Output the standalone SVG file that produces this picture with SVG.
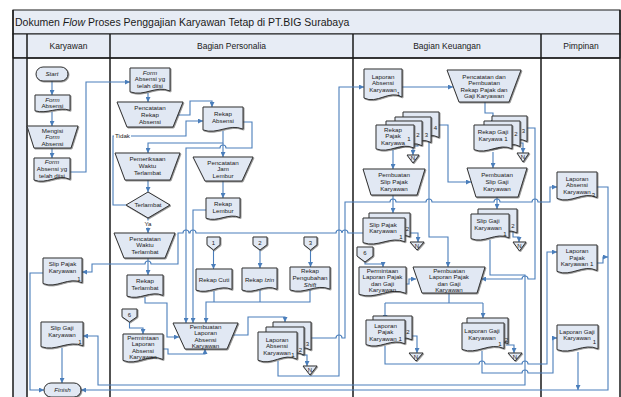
<svg xmlns="http://www.w3.org/2000/svg" width="621" height="397" viewBox="0 0 621 397">
<style>
.sh{fill:#e1e8f3;stroke:#333;stroke-width:1;filter:url(#sd)}
.ln{fill:none;stroke:#4a7ebb;stroke-width:1.1}
.ar{marker-end:url(#ah)}
text{font-family:"Liberation Sans",Arial,sans-serif;fill:#1a1a1a}
.t{font-size:6.2px;text-anchor:middle}
.n{font-size:6px;text-anchor:middle}
.i{font-style:italic}
.hd{fill:#e7ecf5;stroke:#1a1a1a;stroke-width:1}
.lane{stroke:#1a1a1a;stroke-width:1.5;fill:none}
.h{font-size:8.5px;text-anchor:middle}
.bg{fill:#fff}
</style>
<defs>
<marker id="ah" viewBox="0 0 10 10" refX="10" refY="5" markerWidth="5" markerHeight="5" orient="auto" markerUnits="userSpaceOnUse"><path d="M0,0 L10,5 L0,10 z" fill="#4a7ebb"/></marker>
<filter id="sd" x="-10%" y="-10%" width="130%" height="130%"><feDropShadow dx="0.8" dy="0.8" stdDeviation="0.3" flood-color="#444" flood-opacity="0.7"/></filter>
</defs>
<rect width="621" height="397" fill="#fff"/>
<g id="frame">
<rect class="hd" x="13" y="10" width="607" height="24"/>
<rect class="hd" x="13" y="34" width="607" height="24"/>
<rect x="13" y="58" width="14" height="339" fill="#e7ecf5"/>
<path class="lane" d="M13,10 V397 M27,34 V397 M110,34 V397 M353,34 V397 M541,34 V397 M620,10 V397 M13,58 H620"/>
<text x="15" y="25.5" font-size="10.5">Dokumen <tspan class="i">Flow</tspan> Proses Penggajian Karyawan Tetap di PT.BIG Surabaya</text>
<text class="h" x="68.5" y="49">Karyawan</text>
<text class="h" x="231.5" y="49">Bagian Personalia</text>
<text class="h" x="447" y="49">Bagian Keuangan</text>
<text class="h" x="581" y="49">Pimpinan</text>
</g>
<g id="connectors">
<path class="ln ar" d="M52,81 V95"/>
<path class="ln ar" d="M52,112 V126"/>
<path class="ln ar" d="M52,148 V158"/>
<path class="ln ar" d="M70,172 H86 V82 H130"/>
<path class="ln ar" d="M43,273 H30 V390 H44"/>
<path class="ln ar" d="M62,348 V383"/>
<path class="ln ar" d="M148,93 V102"/>
<path class="ln ar" d="M178,115 H190 V101 H212 V107"/>
<path class="ln ar" d="M223,131 V143 H148 V153"/>
<path class="ln ar" d="M223,143 V157"/>
<path class="ln ar" d="M243,122 H252 V148 H226 a3,3 0 0 0 -6,0 H186 V323"/>
<path class="ln ar" d="M148,180 V192"/>
<path class="ln ar" d="M126,205 H113 V136 H186 V121 H203"/>
<path class="ln ar" d="M148,218 V233"/>
<path class="ln ar" d="M148,258 V275"/>
<path class="ln ar" d="M145,297 V303 H167 V337 H179"/>
<path class="ln ar" d="M223,181 V198"/>
<path class="ln ar" d="M206,210 H193 V323"/>
<path class="ln ar" d="M213.5,250 V269"/>
<path class="ln ar" d="M260,250 V268"/>
<path class="ln ar" d="M310.5,250 V267"/>
<path class="ln" d="M214,291 V302 M260,290 V302"/>
<path class="ln ar" d="M310,290 V302 H206 V323"/>
<path class="ln ar" d="M129.5,322 V328 H143 V334"/>
<path class="ln ar" d="M163,349 H168 V354 H205 V349"/>
<path class="ln ar" d="M233,335 H248 V317 H285 V322"/>
<path class="ln ar" d="M302,355 H307 V366"/>
<path class="ln ar" d="M278,361 V376 H339 V87 H364"/>
<path class="ln ar" d="M311,338 H336 a3,3 0 0 1 6,0 H345 V202 H390 a3,3 0 0 1 6,0 H426 a3,3 0 0 1 6,0 H494 a3,3 0 0 1 6,0 H532 a3,3 0 0 1 6,0 H550 V187 H557"/>
<path class="ln ar" d="M363,233 H348 a3,3 0 0 0 -6,0 a3,3 0 0 0 -6,0 H196 a3,3 0 0 0 -6,0 H189 a3,3 0 0 0 -6,0 H178 V264 H151 a3,3 0 0 0 -6,0 H92 V272 H82"/>
<path class="ln ar" d="M402,87 H453"/>
<path class="ln ar" d="M485,102 V113 H493 V125"/>
<path class="ln ar" d="M393,150 V169"/>
<path class="ln ar" d="M418,139 V146 H413 V155"/>
<path class="ln ar" d="M429,140 V237 H448 V267"/>
<path class="ln ar" d="M439,125 H448 V182 H471"/>
<path class="ln ar" d="M516,139 V143 H523 V153"/>
<path class="ln ar" d="M527,128 H535 V279 H528 a3,3 0 0 0 -6,0 H481"/>
<path class="ln ar" d="M493,152 V168"/>
<path class="ln ar" d="M393,195 V213"/>
<path class="ln ar" d="M497,197 V209"/>
<path class="ln ar" d="M408,233 H418 V242"/>
<path class="ln ar" d="M513,230 V237 H519 V242"/>
<path class="ln ar" d="M490,240 V275 H525 V385 H98 V336 H83"/>
<path class="ln ar" d="M365,262 V264 H383 V267"/>
<path class="ln ar" d="M406,284 H409 V279 H416"/>
<path class="ln" d="M449,293 V303 M385,303 H483"/>
<path class="ln ar" d="M385,303 V320"/>
<path class="ln ar" d="M483,303 V318"/>
<path class="ln ar" d="M408,336 H417 V353"/>
<path class="ln ar" d="M506,345 H514 V353"/>
<path class="ln ar" d="M385,346 V364 H479 a3,3 0 0 1 6,0 H522 a3,3 0 0 1 6,0 H547 V252 H557"/>
<path class="ln ar" d="M482,351 V373 H522 a3,3 0 0 1 6,0 H553 V338 H557"/>
<path class="ln ar" d="M597,187 H608 V390 H81"/>
<path class="ln ar" d="M597,263 H603 V257 H608"/>
<path class="ln ar" d="M578,352 V390"/>
<rect class="bg" x="114" y="132" width="17" height="8"/>
<text class="t" x="122.5" y="138.2">Tidak</text>
<rect class="bg" x="143" y="220.5" width="10" height="7"/>
<text class="t" x="148" y="226">Ya</text>
</g>
<g id="start"><rect class="sh" x="36" y="67" width="32" height="14" rx="7"/><text class="t i" x="52" y="76.3">Start</text></g>
<g id="k-form"><path class="sh" d="M35,95 H70 V110.3 C57.75,106.2 47.25,114.4 35,110.8 Z"/><text class="t i" x="52.5" y="101.5">Form</text><text class="t" x="52.5" y="108">Absensi</text></g>
<g id="k-mengisi"><path class="sh" d="M27,126 H78 L71,148 H34 Z"/><text class="t" x="52.5" y="132.5">Mengisi</text><text class="t i" x="52.5" y="139.3">Form</text><text class="t" x="52.5" y="146">Absensi</text></g>
<g id="k-form-diisi"><path class="sh" d="M34,158 H70 V179.3 C57.4,173.5 46.6,185 34,180 Z"/><text class="t i" x="52" y="164.3">Form</text><text class="t" x="52" y="171">Absensi yg</text><text class="t" x="52" y="177.6">telah diisi</text></g>
<g id="k-slip-pajak"><path class="sh" d="M43,258 H82 V282.7 C68.4,276 56.7,289.3 43,283.5 Z"/><text class="t" x="62.5" y="266">Slip Pajak</text><text class="t" x="62.5" y="273">Karyawan</text><text class="n" x="79" y="281">1</text></g>
<g id="k-slip-gaji"><path class="sh" d="M41,322 H83 V345.8 C68.3,339.4 55.7,352.2 41,346.6 Z"/><text class="t" x="62" y="330">Slip Gaji</text><text class="t" x="62" y="337">Karyawan</text><text class="n" x="80" y="344">1</text></g>
<g id="finish"><rect class="sh" x="44" y="383" width="37" height="14" rx="7"/><text class="t i" x="62.5" y="392.3">Finish</text></g>
<g id="p-form"><path class="sh" d="M130,68 H170 V91 C156,84.7 144,97.2 130,91.8 Z"/><text class="t i" x="150" y="74.5">Form</text><text class="t" x="150" y="81">Absensi yg</text><text class="t" x="150" y="87.5">telah diisi</text></g>
<g id="p-pencatatan-rekap"><path class="sh" d="M117,102 H183 L173,127 H127 Z"/><text class="t" x="150" y="110">Pencatatan</text><text class="t" x="150" y="117">Rekap</text><text class="t" x="150" y="124">Absensi</text></g>
<g id="p-rekap-absensi"><path class="sh" d="M203,107 H243 V129.1 C229,123.1 217,135.1 203,129.9 Z"/><text class="t" x="223" y="116">Rekap</text><text class="t" x="223" y="123">Absensi</text></g>
<g id="p-pemeriksaan"><path class="sh" d="M115,153 H180 L170,180 H125 Z"/><text class="t" x="147.5" y="161">Pemeriksaan</text><text class="t" x="147.5" y="168">Waktu</text><text class="t" x="147.5" y="175">Terlambat</text></g>
<g id="p-terlambat"><path class="sh" d="M148,192 L170,205 L148,218 L126,205 Z"/><text class="t" x="148" y="207.3">Terlambat</text></g>
<g id="p-pencatatan-waktu"><path class="sh" d="M114,233 H175 L165,258 H124 Z"/><text class="t" x="145" y="240.5">Pencatatan</text><text class="t" x="145" y="247.3">Waktu</text><text class="t" x="145" y="254.2">Terlambat</text></g>
<g id="p-rekap-terlambat"><path class="sh" d="M127,275 H163 V295.4 C150.4,289.9 139.6,300.9 127,296.1 Z"/><text class="t" x="145" y="283">Rekap</text><text class="t" x="145" y="290">Terlambat</text></g>
<g id="p-pencatatan-lembur"><path class="sh" d="M193,157 H253 L242,181 H205 Z"/><text class="t" x="223" y="164.5">Pencatatan</text><text class="t" x="223" y="171.3">Jam</text><text class="t" x="223" y="178">Lembur</text></g>
<g id="p-rekap-lembur"><path class="sh" d="M206,198 H240 V217.6 C228.1,212.3 217.9,222.8 206,218.2 Z"/><text class="t" x="223" y="206">Rekap</text><text class="t" x="223" y="213">Lembur</text></g>
<g id="c1"><path class="sh" d="M207,237 H220 V244.8 L213.5,250 L207,244.8 Z"/><text class="n" x="213.5" y="244.5">1</text></g>
<g id="c2"><path class="sh" d="M253,237 H267 V244.8 L260,250 L253,244.8 Z"/><text class="n" x="260" y="244.5">2</text></g>
<g id="c3"><path class="sh" d="M304,237 H317 V244.8 L310.5,250 L304,244.8 Z"/><text class="n" x="310.5" y="244.5">3</text></g>
<g id="p-rekap-cuti"><path class="sh" d="M196,269 H232 V289.4 C219.4,283.9 208.6,294.9 196,290.1 Z"/><text class="t" x="214" y="282">Rekap Cuti</text></g>
<g id="p-rekap-izin"><path class="sh" d="M242,268 H277 V289.3 C264.8,283.5 254.3,295 242,290 Z"/><text class="t" x="259.5" y="282">Rekap <tspan class="i">Izin</tspan></text></g>
<g id="p-rekap-shift"><path class="sh" d="M290,267 H330 V289.1 C316,283.1 304,295.1 290,289.9 Z"/><text class="t" x="310" y="273">Rekap</text><text class="t" x="310" y="280">Pengubahan</text><text class="t i" x="310" y="287">Shift</text></g>
<g id="c6p"><path class="sh" d="M122,309 H137 V316.8 L129.5,322 L122,316.8 Z"/><text class="n" x="129.5" y="316.5">6</text></g>
<g id="p-permintaan"><path class="sh" d="M123,334 H163 V359.5 C149,352.6 137,366.4 123,360.4 Z"/><text class="t" x="143" y="339.8">Permintaan</text><text class="t" x="143" y="346.3">Laporan</text><text class="t" x="143" y="352.8">Absensi</text><text class="t" x="143" y="359.3">Karyawan</text></g>
<g id="p-pembuatan"><path class="sh" d="M173,323 H238 L227,349 H185 Z"/><text class="t" x="205.5" y="328.7">Pembuatan</text><text class="t" x="205.5" y="335.2">Laporan</text><text class="t" x="205.5" y="341.7">Absensi</text><text class="t" x="205.5" y="348.2">Karyawan</text></g>
<g id="p-laporan-absensi"><path class="sh" d="M273,322 H311 V350 C297.7,342.5 286.3,357.6 273,351 Z"/><path class="sh" d="M266,327 H304 V355 C290.7,347.5 279.3,362.6 266,356 Z"/><path class="sh" d="M258,332 H297 V359.2 C283.4,351.8 271.7,366.6 258,360.2 Z"/><text class="t" x="277" y="341.5">Laporan</text><text class="t" x="277" y="348">Absensi</text><text class="t" x="277" y="354.5">Karyawan</text><text class="n" x="293" y="357">1</text><text class="n" x="300.5" y="352">2</text><text class="n" x="307.5" y="346">3</text></g>
<g id="p-n"><path class="sh" d="M303,366 H317 L310,375 Z"/><text class="n" x="310" y="371.5" font-size="5">N</text></g>
<g id="k-laporan-absensi"><path class="sh" d="M364,69 H402 V97 C388.7,89.5 377.3,104.6 364,98 Z"/><text class="t" x="383" y="78.5">Laporan</text><text class="t" x="383" y="85">Absensi</text><text class="t" x="383" y="91.5">Karyawan</text><text class="n" x="398.5" y="96">1</text></g>
<g id="k-pencatatan"><path class="sh" d="M447,70 H521 L509,102 H459 Z"/><text class="t" x="484" y="78.5">Pencatatan dan</text><text class="t" x="484" y="85">Pembuatan</text><text class="t" x="484" y="91.5">Rekap Pajak dan</text><text class="t" x="484" y="98">Gaji Karyawan</text></g>
<g id="k-rekap-pajak"><path class="sh" d="M403,112 H439 V137.5 C426.4,130.6 415.6,144.4 403,138.4 Z"/><path class="sh" d="M395,117 H431 V142.5 C418.4,135.6 407.6,149.4 395,143.4 Z"/><path class="sh" d="M386,121 H422 V145.7 C409.4,139 398.6,152.3 386,146.5 Z"/><path class="sh" d="M376,125 H414 V148 C400.7,141.7 389.3,154.2 376,148.8 Z"/><text class="t" x="393" y="131.5">Rekap</text><text class="t" x="393" y="138">Pajak</text><text class="t" x="393" y="144.5">Karyawa</text><text class="n" x="409" y="141">1</text><text class="n" x="418" y="136.5">2</text><text class="n" x="426.5" y="136.5">3</text><text class="n" x="435.5" y="130">4</text></g>
<g id="k-n1"><path class="sh" d="M407,155 H419 L413,163 Z"/><text class="n" x="413" y="160" font-size="5">N</text></g>
<g id="k-rekap-gaji"><path class="sh" d="M492,116 H527 V141.5 C514.8,134.6 504.3,148.4 492,142.4 Z"/><path class="sh" d="M484,121 H520 V146.5 C507.4,139.6 496.6,153.4 484,147.4 Z"/><path class="sh" d="M474,125 H512 V148.8 C498.7,142.4 487.3,155.2 474,149.6 Z"/><text class="t" x="493" y="134">Rekap Gaji</text><text class="t" x="493" y="141">Karyawa 1</text><text class="n" x="516" y="136">2</text><text class="n" x="523.5" y="133">3</text></g>
<g id="k-n2"><path class="sh" d="M517,153 H529 L523,162 Z"/><text class="n" x="523" y="158.5" font-size="5">N</text></g>
<g id="k-slip-pajak-proc"><path class="sh" d="M363,169 H425 L417,195 H371 Z"/><text class="t" x="394" y="177">Pembuatan</text><text class="t" x="394" y="184">Slip Pajak</text><text class="t" x="394" y="191">Karyawan</text></g>
<g id="k-slip-gaji-proc"><path class="sh" d="M467,168 H527 L518,197 H476 Z"/><text class="t" x="497" y="177">Pembuatan</text><text class="t" x="497" y="184">Slip Gaji</text><text class="t" x="497" y="191">Karyawan</text></g>
<g id="k-slip-pajak"><path class="sh" d="M369,213 H410 V236.8 C395.7,230.4 383.4,243.2 369,237.6 Z"/><path class="sh" d="M363,218 H405 V241.8 C390.3,235.4 377.7,248.2 363,242.6 Z"/><text class="t" x="383" y="226.5">Slip Pajak</text><text class="t" x="383" y="233">Karyawan</text><text class="n" x="401" y="239">1</text><text class="n" x="407.5" y="231">2</text></g>
<g id="k-n3"><path class="sh" d="M410,242 H424 L417,250 Z"/><text class="n" x="417" y="247.5" font-size="5">N</text></g>
<g id="k-slip-gaji"><path class="sh" d="M478,209 H517 V232.8 C503.4,226.4 491.7,239.2 478,233.6 Z"/><path class="sh" d="M471,214 H509 V237.8 C495.7,231.4 484.3,244.2 471,238.6 Z"/><text class="t" x="488" y="223">Slip Gaji</text><text class="t" x="488" y="230">Karyawan</text><text class="n" x="505" y="236">1</text><text class="n" x="513" y="227.5">2</text></g>
<g id="k-n4"><path class="sh" d="M513,242 H526 L519.5,251 Z"/><text class="n" x="519.5" y="247.5" font-size="5">N</text></g>
<g id="c6k"><path class="sh" d="M357,247 H373 V256 L365,262 L357,256 Z"/><text class="n" x="365" y="255">6</text></g>
<g id="k-permintaan"><path class="sh" d="M359,267 H406 V293.4 C389.6,286.2 375.5,300.5 359,294.3 Z"/><text class="t" x="382.5" y="272.5">Permintaan</text><text class="t" x="382.5" y="279">Laporan Pajak</text><text class="t" x="382.5" y="285.5">dan Gaji</text><text class="t" x="382.5" y="292">Karyawan</text></g>
<g id="k-pembuatan-laporan"><path class="sh" d="M413,267 H485 L477,293 H422 Z"/><text class="t" x="449" y="272.8">Pembuatan</text><text class="t" x="449" y="279.3">Laporan Pajak</text><text class="t" x="449" y="285.8">dan Gaji</text><text class="t" x="449" y="292.3">Karyawan</text></g>
<g id="k-laporan-pajak"><path class="sh" d="M373,316 H412 V339.8 C398.4,333.4 386.7,346.2 373,340.6 Z"/><path class="sh" d="M366,320 H405 V343.8 C391.4,337.4 379.7,350.2 366,344.6 Z"/><text class="t" x="385.5" y="327.5">Laporan</text><text class="t" x="385.5" y="334">Pajak</text><text class="t" x="385.5" y="340.5">Karyawan 1</text><text class="n" x="408" y="333.5">2</text></g>
<g id="k-n5"><path class="sh" d="M409,353 H423 L416,361 Z"/><text class="n" x="416" y="358.5" font-size="5">N</text></g>
<g id="k-laporan-gaji"><path class="sh" d="M467,318 H508 V343.5 C493.7,336.6 481.4,350.4 467,344.4 Z"/><path class="sh" d="M462,323 H504 V348.5 C489.3,341.6 476.7,355.4 462,349.4 Z"/><text class="t" x="482" y="333">Laporan Gaji</text><text class="t" x="482" y="339.5">Karyawan</text><text class="n" x="500" y="346">1</text><text class="n" x="506.5" y="342">2</text></g>
<g id="k-n6"><path class="sh" d="M508,353 H522 L515,361 Z"/><text class="n" x="515" y="358.5" font-size="5">N</text></g>
<g id="pim-absensi"><path class="sh" d="M557,172 H597 V197.5 C583,190.6 571,204.4 557,198.4 Z"/><text class="t" x="577" y="180.5">Laporan</text><text class="t" x="577" y="187">Absensi</text><text class="t" x="577" y="193.5">Karyawan</text><text class="n" x="593.5" y="197">3</text></g>
<g id="pim-pajak"><path class="sh" d="M557,245 H597 V270.5 C583,263.6 571,277.4 557,271.4 Z"/><text class="t" x="577" y="253">Laporan</text><text class="t" x="577" y="259.5">Pajak</text><text class="t" x="577" y="266">Karyawan 1</text></g>
<g id="pim-gaji"><path class="sh" d="M557,325 H598 V348.8 C583.7,342.4 571.4,355.2 557,349.6 Z"/><text class="t" x="577" y="333.5">Laporan Gaji</text><text class="t" x="577" y="340">Karyawan</text><text class="n" x="594.5" y="344">1</text></g>
</svg>
